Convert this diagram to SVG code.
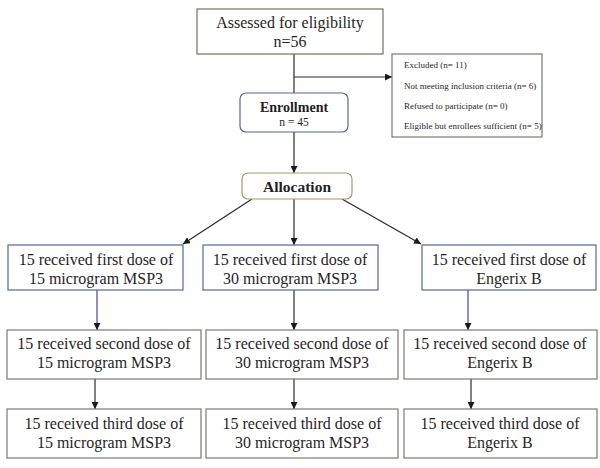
<svg xmlns="http://www.w3.org/2000/svg" width="600" height="468" viewBox="0 0 600 468">
<defs>
<marker id="ah" viewBox="0 0 10 10" refX="10" refY="5" markerWidth="7" markerHeight="7" markerUnits="userSpaceOnUse" orient="auto">
<path d="M0,0 L10,5 L0,10 z" fill="#1a1a1a"/>
</marker>
<style>
text{fill:#1f1f1f;text-anchor:middle}
.box{fill:#fff;stroke-width:1.2}
.olive{stroke:#6f7560}
.blue{stroke:#5764a0}
.grey{stroke:#7a7a72}
.tan{stroke:#a59a6e}
.t16{font-size:16px}
.small{font-size:9px;text-anchor:start}
.line{stroke:#2a2a2a;stroke-width:1.2;fill:none}
.bl{stroke:#3d4a99}
</style>
</defs>
<rect width="600" height="468" fill="#fff"/>
<g id="connectors">
<path class="line" d="M294,54 V93"/>
<path class="line" d="M294,77 H392" marker-end="url(#ah)"/>
<path class="line" d="M294,132 V173" marker-end="url(#ah)"/>
<path class="line" d="M252,199 L183,244" marker-end="url(#ah)"/>
<path class="line" d="M294,199 V245" marker-end="url(#ah)"/>
<path class="line" d="M342,199 L421,244" marker-end="url(#ah)"/>
<path class="line bl" d="M97,290 V330" marker-end="url(#ah)"/>
<path class="line" d="M294,290 V330" marker-end="url(#ah)"/>
<path class="line bl" d="M468,290 V330" marker-end="url(#ah)"/>
<path class="line" d="M95,379 V409" marker-end="url(#ah)"/>
<path class="line" d="M294,379 V409" marker-end="url(#ah)"/>
<path class="line" d="M471,379 V409" marker-end="url(#ah)"/>
</g>
<g font-family="Liberation Serif, DejaVu Serif, serif">
<g id="assessed">
<rect class="box olive" x="197" y="9" width="186" height="45"/>
<text class="t16" x="290" y="28">Assessed for eligibility</text>
<text class="t16" x="290" y="47">n=56</text>
</g>
<g id="excluded">
<rect class="box grey" x="392" y="54" width="150" height="83"/>
<text class="small" x="404" y="68">Excluded (n= 11)</text>
<text class="small" x="404" y="89">Not meeting inclusion criteria (n= 6)</text>
<text class="small" x="404" y="109">Refused to participate (n= 0)</text>
<text class="small" x="404" y="129">Eligible but enrollees sufficient (n= 5)</text>
</g>
<g id="enrollment">
<rect class="box blue" x="240" y="93" width="108" height="39" rx="6"/>
<text x="294" y="112" font-size="14" font-weight="bold">Enrollment</text>
<text x="294" y="126" font-size="11.5">n = 45</text>
</g>
<g id="allocation">
<rect class="box tan" x="242" y="173" width="110" height="26" rx="6"/>
<text x="297" y="192" font-size="15.5" font-weight="bold">Allocation</text>
</g>
<g id="first15">
<rect class="box blue" x="8" y="245" width="175" height="45"/>
<text class="t16" x="96" y="265">15 received first dose of</text>
<text class="t16" x="96" y="284">15 microgram MSP3</text>
</g>
<g id="first30">
<rect class="box blue" x="203" y="245" width="175" height="45"/>
<text class="t16" x="290" y="265">15 received first dose of</text>
<text class="t16" x="290" y="284">30 microgram MSP3</text>
</g>
<g id="firstEng">
<rect class="box blue" x="422" y="245" width="174" height="45"/>
<text class="t16" x="509" y="265">15 received first dose of</text>
<text class="t16" x="509" y="284">Engerix B</text>
</g>
<g id="second15">
<rect class="box grey" x="7" y="330" width="194" height="49"/>
<text class="t16" x="104" y="349">15 received second dose of</text>
<text class="t16" x="104" y="368">15 microgram MSP3</text>
</g>
<g id="second30">
<rect class="box grey" x="206" y="330" width="192" height="49"/>
<text class="t16" x="302" y="349">15 received second dose of</text>
<text class="t16" x="302" y="368">30 microgram MSP3</text>
</g>
<g id="secondEng">
<rect class="box grey" x="404" y="330" width="193" height="49"/>
<text class="t16" x="500" y="349">15 received second dose of</text>
<text class="t16" x="500" y="368">Engerix B</text>
</g>
<g id="third15">
<rect class="box grey" x="7" y="409" width="194" height="49"/>
<text class="t16" x="104" y="429">15 received third dose of</text>
<text class="t16" x="104" y="448">15 microgram MSP3</text>
</g>
<g id="third30">
<rect class="box grey" x="206" y="409" width="192" height="49"/>
<text class="t16" x="302" y="429">15 received third dose of</text>
<text class="t16" x="302" y="448">30 microgram MSP3</text>
</g>
<g id="thirdEng">
<rect class="box grey" x="404" y="409" width="193" height="49"/>
<text class="t16" x="500" y="429">15 received third dose of</text>
<text class="t16" x="500" y="448">Engerix B</text>
</g>
</g>
</svg>
